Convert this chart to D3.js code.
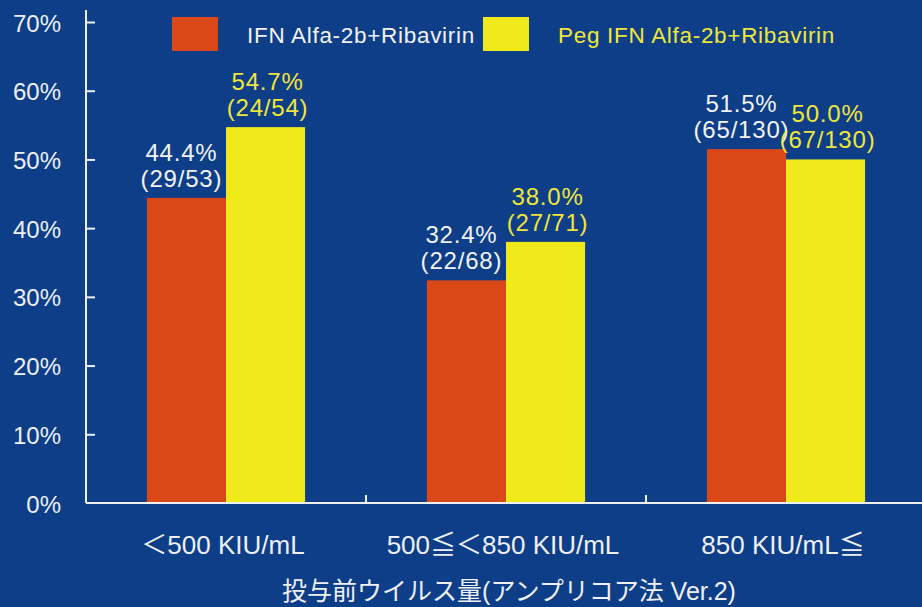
<!DOCTYPE html>
<html>
<head>
<meta charset="utf-8">
<script src="https://cdn.jsdelivr.net/npm/d3@7"></script>
<style>
  html, body { margin: 0; padding: 0; background: #0d3e87; }
  svg { display: block; }
  text { font-family: "Liberation Sans", Arial, "Noto Sans CJK JP", sans-serif; }
</style>
</head>
<body>
<svg id="chart" width="922" height="607"></svg>
<script>
// ── Data ──────────────────────────────────────────────────────────────────────
const categories = ['＜500 KIU/mL', '500≦＜850 KIU/mL', '850 KIU/mL≦'];
const seriesNames = ['IFN Alfa-2b+Ribavirin', 'Peg IFN Alfa-2b+Ribavirin'];
const ifnValues  = [44.4, 32.4, 51.5];
const ifnCounts  = ['(29/53)', '(22/68)', '(65/130)'];
const pegValues  = [54.7, 38.0, 50.0];
const pegCounts  = ['(24/54)', '(27/71)', '(67/130)'];
const yTicks     = [0, 10, 20, 30, 40, 50, 60, 70];
const xTitle     = '投与前ウイルス量(アンプリコア法 Ver.2)';

// ── Look ──────────────────────────────────────────────────────────────────────
const BAR_COLORS  = ['#da4818', '#f0ea1a'];
const TEXT_COLORS = ['#f2f2f2', '#f0e63a'];
const AXIS_COLOR  = '#eef0f4';

const X0 = 86, X1 = 926, Y0 = 503, YTOP = 22;

const svg = d3.select('#chart');

const x = d3.scaleBand().domain(categories).range([X0, X1]).paddingInner(0).paddingOuter(0);
const xs = d3.scaleBand().domain(seriesNames).range([0, x.bandwidth()]).paddingInner(0).paddingOuter(0.77);
const y = d3.scaleLinear().domain([0, 70]).range([Y0, YTOP]);

const rows = categories.map((c, i) => ({
  cat: c,
  vals: [
    {s: seriesNames[0], v: ifnValues[i], n: ifnCounts[i], k: 0},
    {s: seriesNames[1], v: pegValues[i], n: pegCounts[i], k: 1}
  ]
}));

// bars
const grp = svg.append('g').selectAll('g').data(rows).join('g')
  .attr('transform', d => `translate(${x(d.cat)},0)`);

grp.selectAll('rect').data(d => d.vals).join('rect')
  .attr('x', d => xs(d.s))
  .attr('y', d => y(d.v))
  .attr('width', xs.bandwidth())
  .attr('height', d => Y0 - y(d.v))
  .attr('fill', d => BAR_COLORS[d.k]);

// value labels
grp.selectAll('text.pct').data(d => d.vals).join('text')
  .attr('class', 'pct')
  .attr('x', d => xs(d.s) + xs.bandwidth() / 2 + (d.k ? 2 : -5))
  .attr('y', d => y(d.v) - 37)
  .attr('text-anchor', 'middle')
  .attr('font-size', 24)
  .attr('letter-spacing', 0.8)
  .attr('fill', d => TEXT_COLORS[d.k])
  .text(d => d.v.toFixed(1) + '%');

grp.selectAll('text.cnt').data(d => d.vals).join('text')
  .attr('class', 'cnt')
  .attr('x', d => xs(d.s) + xs.bandwidth() / 2 + (d.k ? 2 : -5))
  .attr('y', d => y(d.v) - 11)
  .attr('text-anchor', 'middle')
  .attr('font-size', 24)
  .attr('letter-spacing', 0.8)
  .attr('fill', d => TEXT_COLORS[d.k])
  .text(d => d.n);

// y axis: ticks to the right, labels to the left
const yAxisG = svg.append('g').attr('transform', `translate(${X0},0)`);
yAxisG.append('line')
  .attr('x1', 0).attr('x2', 0).attr('y1', 10).attr('y2', Y0)
  .attr('stroke', AXIS_COLOR).attr('stroke-width', 2);

const yMarks = yAxisG.append('g')
  .call(d3.axisRight(y).tickValues(yTicks.slice(1)).tickSize(9).tickFormat(''));
yMarks.select('.domain').remove();
yMarks.selectAll('line').attr('stroke', AXIS_COLOR).attr('stroke-width', 2);

const yLabels = svg.append('g').attr('transform', `translate(${X0},0)`)
  .call(d3.axisLeft(y).tickValues(yTicks).tickSize(0).tickPadding(25).tickFormat(d => d + '%'));
yLabels.select('.domain').remove();
yLabels.selectAll('text')
  .attr('font-size', 24)
  .attr('font-family', '"Liberation Sans", Arial, sans-serif')
  .attr('fill', AXIS_COLOR)
  .attr('dy', '0.38em');

// x axis
svg.append('line')
  .attr('x1', X0).attr('x2', 922).attr('y1', Y0).attr('y2', Y0)
  .attr('stroke', AXIS_COLOR).attr('stroke-width', 2);

svg.append('g').selectAll('line').data(categories.slice(1)).join('line')
  .attr('x1', d => x(d)).attr('x2', d => x(d))
  .attr('y1', Y0).attr('y2', Y0 - 8)
  .attr('stroke', AXIS_COLOR).attr('stroke-width', 2);

svg.append('g').selectAll('text').data(categories).join('text')
  .attr('x', d => x(d) + x.bandwidth() / 2 - 3)
  .attr('y', 554)
  .attr('text-anchor', 'middle')
  .attr('font-size', 26)
  .attr('fill', AXIS_COLOR)
  .text(d => d);

svg.append('text')
  .attr('x', 509).attr('y', 600)
  .attr('text-anchor', 'middle')
  .attr('font-size', 25)
  .attr('fill', AXIS_COLOR)
  .text(xTitle);

// legend
const legendX = [172, 483];
const legendTextX = [247, 558];
const leg = svg.append('g').selectAll('g').data(seriesNames).join('g');
leg.append('rect')
  .attr('x', (d, i) => legendX[i]).attr('y', 17)
  .attr('width', 46).attr('height', 34)
  .attr('fill', (d, i) => BAR_COLORS[i]);
leg.append('text')
  .attr('x', (d, i) => legendTextX[i]).attr('y', 43)
  .attr('font-size', 22.5)
  .attr('letter-spacing', 0.7)
  .attr('fill', (d, i) => TEXT_COLORS[i])
  .text(d => d);
</script>
</body>
</html>
